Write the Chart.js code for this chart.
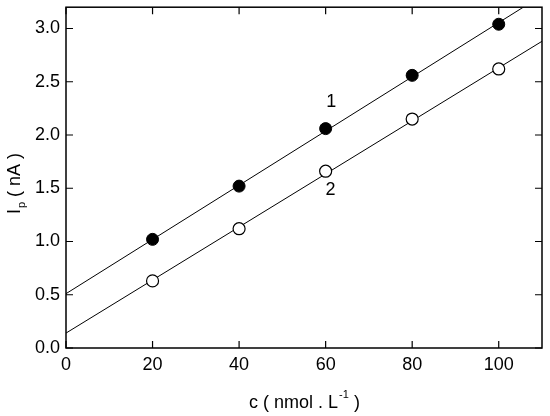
<!DOCTYPE html>
<html>
<head>
<meta charset="utf-8">
<script src="https://cdn.jsdelivr.net/npm/chart.js@4.4.0/dist/chart.umd.min.js"></script>
<style>
  html, body { margin: 0; padding: 0; background: #fff; }
  #wrap { width: 550px; height: 416px; }
</style>
</head>
<body>
<div id="wrap"><canvas id="myChart"></canvas></div>
<script>
let conc = [20, 40, 60, 80, 100];
let series1 = [1.02, 1.52, 2.06, 2.56, 3.04];
let series2 = [0.63, 1.12, 1.66, 2.15, 2.62];
// fitted lines, end points
let fitX = [0, 110];
let fit1 = [0.51, 3.31];
let fit2 = [0.14, 2.88];
let xTicks = [0, 20, 40, 60, 80, 100];
let yTicks = [0, 0.5, 1.0, 1.5, 2.0, 2.5, 3.0];
let curveLabels = [{ text: '1', x: 61.3, y: 2.31 }, { text: '2', x: 61.1, y: 1.48 }];

const FAMILY = '"Liberation Sans", Arial, sans-serif';
const FONT = '18px ' + FAMILY;
const SMALL = '11px ' + FAMILY;

let pts = (xs, ys) => xs.map((x, i) => ({ x: x, y: ys[i] }));

let framePlugin = {
  id: 'frame',
  afterDraw(chart) {
    let c = chart.ctx, a = chart.chartArea;
    let xs = chart.scales.x, ys = chart.scales.y;
    c.save();
    c.strokeStyle = '#000';
    c.lineWidth = 1.5;
    c.strokeRect(a.left, a.top, a.right - a.left, a.bottom - a.top);
    c.lineWidth = 1.2;
    let L = 7;
    c.beginPath();
    xTicks.forEach(v => {
      let p = xs.getPixelForValue(v);
      c.moveTo(p, a.bottom); c.lineTo(p, a.bottom - L);
      c.moveTo(p, a.top); c.lineTo(p, a.top + L);
    });
    yTicks.forEach(v => {
      let p = ys.getPixelForValue(v);
      c.moveTo(a.left, p); c.lineTo(a.left + L, p);
      c.moveTo(a.right, p); c.lineTo(a.right - L, p);
    });
    c.stroke();

    c.fillStyle = '#000';
    c.font = FONT;
    c.textBaseline = 'middle';
    c.textAlign = 'center';
    curveLabels.forEach(l => {
      c.fillText(l.text, xs.getPixelForValue(l.x), ys.getPixelForValue(l.y));
    });

    // x title with superscript
    let cx = 304, cy = 403;
    let parts = ['c ( nmol . L', '-1', ' )'];
    c.font = FONT; let w0 = c.measureText(parts[0]).width, w2 = c.measureText(parts[2]).width;
    c.font = SMALL; let w1 = c.measureText(parts[1]).width;
    let x0 = cx - (w0 + w1 + w2) / 2;
    c.textAlign = 'left';
    c.font = FONT; c.fillText(parts[0], x0, cy);
    c.font = SMALL; c.fillText(parts[1], x0 + w0 + 1, cy - 8);
    c.font = FONT; c.fillText(parts[2], x0 + w0 + w1 + 1, cy);

    // y title with subscript, rotated
    c.translate(15, 184);
    c.rotate(-Math.PI / 2);
    let yp = ['I', 'p', ' ( nA )'];
    c.font = FONT; let v0 = c.measureText(yp[0]).width, v2 = c.measureText(yp[2]).width;
    c.font = SMALL; let v1 = c.measureText(yp[1]).width;
    let y0 = -(v0 + v1 + v2) / 2;
    c.font = FONT; c.fillText(yp[0], y0, 0);
    c.font = SMALL; c.fillText(yp[1], y0 + v0 + 1, 7);
    c.font = FONT; c.fillText(yp[2], y0 + v0 + v1 + 1, 0);
    c.restore();
  }
};

let ctx = document.getElementById('myChart').getContext('2d');
let myChart = new Chart(ctx, {
  type: 'scatter',
  data: {
    datasets: [
      { data: pts(fitX, fit1), showLine: true, borderColor: '#000', borderWidth: 1, pointRadius: 0, order: 2 },
      { data: pts(fitX, fit2), showLine: true, borderColor: '#000', borderWidth: 1, pointRadius: 0, order: 2 },
      { data: pts(conc, series1), pointRadius: 6, pointBackgroundColor: '#000', pointBorderColor: '#000', pointBorderWidth: 1, order: 1 },
      { data: pts(conc, series2), pointRadius: 6, pointBackgroundColor: '#fff', pointBorderColor: '#000', pointBorderWidth: 1.2, order: 1 }
    ]
  },
  options: {
    responsive: true,
    maintainAspectRatio: false,
    animation: false,
    layout: { padding: { top: 5, right: 8, left: 0, bottom: 0 } },
    plugins: { legend: { display: false }, tooltip: { enabled: false } },
    scales: {
      x: {
        type: 'linear', min: 0, max: 110,
        grid: { display: false, drawTicks: false },
        border: { display: false },
        ticks: { stepSize: 20, includeBounds: false, color: '#000', padding: 6, maxRotation: 0,
          font: { family: FAMILY, size: 18 } },
        afterFit: s => { s.height = 68; s.paddingLeft = 0; s.paddingRight = 0; }
      },
      y: {
        type: 'linear', min: 0, max: 3.2,
        grid: { display: false, drawTicks: false },
        border: { display: false },
        ticks: { stepSize: 0.5, includeBounds: false, color: '#000', padding: 6,
          font: { family: FAMILY, size: 18 },
          callback: v => v.toFixed(1) },
        afterFit: s => { s.width = 66; s.paddingTop = 0; s.paddingBottom = 0; }
      }
    }
  },
  plugins: [framePlugin]
});
</script>
</body>
</html>
